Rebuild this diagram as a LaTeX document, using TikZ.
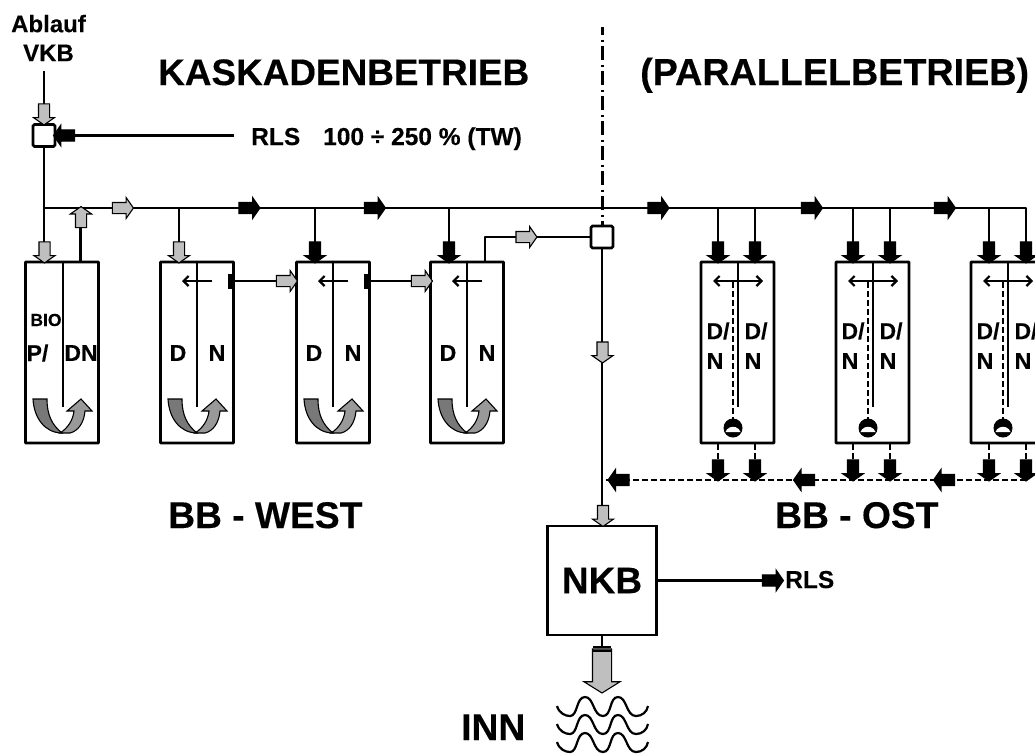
\documentclass[tikz,border=0pt]{standalone}
\usepackage{fontspec}
\setmainfont{Liberation Sans}[BoldFeatures={FakeBold=0.3}]
\usetikzlibrary{shapes.arrows,arrows.meta}
\definecolor{garrow}{gray}{0.75}
\definecolor{udark}{gray}{0.47}
\definecolor{ulight}{gray}{0.60}
\tikzset{
  x=1pt,y=-1pt,
  pipe/.style={line width=2.8pt,line join=round},
  dpipe/.style={line width=2.8pt,dash pattern=on 6pt off 3pt},
  tank/.style={draw,line width=2.8pt,rounded corners=0.6pt,inner sep=0pt,minimum width=73pt,minimum height=181pt},
  square/.style={draw,line width=2.8pt,rounded corners=1.5pt,fill=white,inner sep=0pt,minimum size=22pt},
  barrow/.style={single arrow,draw=black,line width=1.1pt,inner sep=0pt,minimum height=21pt,single arrow head extend=5pt,single arrow tip angle=110,execute at begin node={\rule{0pt}{10pt}}},
  ga/.style={barrow,fill=garrow},
  ka/.style={barrow,fill=black},
  lbl/.style={inner sep=0pt,font=\bfseries\fontsize{24.5}{28}\selectfont},
  tanklbl/.style={inner sep=0pt,font=\bfseries\fontsize{23}{26}\selectfont},
  big/.style={inner sep=0pt,anchor=base west,font=\bfseries\fontsize{37.2}{40}\selectfont},
  thin arrow/.style={line width=2.4pt,-{Straight Barb[length=5pt,width=10pt,line width=2.2pt]}},
  both arrow/.style={line width=2.4pt,{Straight Barb[length=5pt,width=10pt,line width=2.2pt]}-{Straight Barb[length=5pt,width=10pt,line width=2.2pt]}},
  bar/.style={fill=black,inner sep=0pt,minimum width=5pt,minimum height=15pt},
  waves/.style={line width=2.2pt},
}
\newcommand{\uturn}[1]{%
  \begin{scope}[xshift=#1]
    \draw[line width=1.1pt,fill=udark] (8,399) -- (22,399) .. controls (22,415) and (27,425) .. (37,433)
      .. controls (20,433) and (9,418) .. (8,399) -- cycle;
    \draw[line width=1.1pt,fill=ulight] (35,433) .. controls (43,428) and (48,420) .. (49,411)
      -- (42,411) -- (56,399) -- (67,411) -- (60,411) .. controls (59,423) and (53,431) .. (45,433) -- cycle;
  \end{scope}}
\newcommand{\wave}[1]{%
  \draw[waves] (557,#1+9) .. controls (559,#1+16) and (565,#1+19) .. (570,#1+19)
    .. controls (578,#1+19) and (576,#1) .. (585,#1)
    .. controls (594,#1) and (593,#1+19) .. (603,#1+19)
    .. controls (612,#1+19) and (609,#1) .. (618,#1)
    .. controls (627,#1) and (626,#1+19) .. (636,#1+19)
    .. controls (642,#1+19) and (647,#1+15) .. (648,#1+9);}
\begin{document}
\begin{tikzpicture}
\useasboundingbox (0,0) rectangle (1035,753);
% texts
\node[inner sep=0pt,align=center,font=\bfseries\fontsize{24}{29}\selectfont] (ablauf) at (48.5,38) {Ablauf\\VKB};
\node[big,font=\bfseries\fontsize{36.9}{40}\selectfont] (kask) at (158,85) {KASKADENBETRIEB};
\node[big,font=\bfseries\fontsize{37.7}{40}\selectfont] (para) at (640,85) {(PARALLELBETRIEB)};
\node[lbl,anchor=base west] (rlstxt) at (251,145) {RLS};
\node[lbl,anchor=base west] (pct) at (323,145) {100 ÷ 250 \% (TW)};
\node[big] (west) at (168,528) {BB - WEST};
\node[big] (ost) at (775,528) {BB - OST};
\node[big] (inn) at (461,740) {INN};
% tanks
\node[tank] (t1) at (62,352.5) {};
\node[tank] (t2) at (197,352.5) {};
\node[tank] (t3) at (333,352.5) {};
\node[tank] (t4) at (467,352.5) {};
\node[tank] (p1) at (737.5,352.5) {};
\node[tank] (p2) at (872.5,352.5) {};
\node[tank] (p3) at (1007.5,352.5) {};
\node[square] (mix1) at (44,135.5) {};
\node[square] (mix2) at (602,237) {};
\node[draw,line width=2.8pt,inner sep=0pt,minimum width=109pt,minimum height=109pt,font=\bfseries\fontsize{37}{40}\selectfont] (nkb) at (602,580.5) {NKB};
% junction coordinates
\coordinate (vkbtop) at (44,71);
\coordinate (mainj) at (44,208);
\coordinate (mainend) at (1026,208);
\coordinate (septop) at (602.5,27);
\coordinate (sepbot) at (602.5,226);
\coordinate (rlsstart) at (234,135.5);
\coordinate (rlsend) at (782,580.5);
\coordinate (retend) at (1026,480);
\coordinate (ret) at (602,480);
% main pipes
\draw[pipe] (vkbtop) -- (mix1);
\draw[pipe] (mix1) -- (mainj) -- (t1.north -| mainj);
\draw[pipe] (mainj) -- (mainend) -- (mainend |- p3.north);
\draw[pipe] (80.5,208) -- (80.5,262);
\draw[pipe] (179,208) -- (179,262);
\draw[pipe] (315,208) -- (315,262);
\draw[pipe] (449,208) -- (449,262);
\draw[pipe] (rlsstart) -- (mix1);
\draw[pipe] (485,262) -- (485,237) -- (mix2);
\draw[pipe] (mix2) -- (nkb);
\draw[pipe] (nkb) -- (rlsend);
\draw[pipe] (nkb.south) -- (602,648);
\draw[pipe] (234,281) -- (t3.west |- 234,281);
\draw[pipe] (370,281) -- (t4.west |- 370,281);
\draw[line width=2.6pt,dash pattern=on 14pt off 4.5pt on 2.5pt off 4pt,dash phase=6pt] (septop) -- (sepbot);
% dashed return
\draw[dpipe] (retend) -- (ret);
\foreach \a/\b in {718/755,853/890,989/1026}{
  \draw[pipe] (\a,208) -- (\a,262);
  \draw[pipe] (\b,208) -- (\b,262);
  \draw[dpipe] (\a,444) -- (\a,480);
  \draw[dpipe] (\b,444) -- (\b,480);
}
% inside tanks
\draw[pipe] (63,262) -- (63,407);
\draw[pipe] (t2.north) -- (197,407);
\draw[pipe] (t3.north) -- (333,407);
\draw[pipe] (t4.north) -- (467,407);
\foreach \x/\t in {0/p1,135/p2,270/p3}{
  \begin{scope}[xshift=\x]
    \draw[pipe] (738,262) -- (738,407);
    \draw[dpipe] (733,282) -- (733,420);
    \draw[both arrow] (713,281) -- (763,281);
    \node[inner sep=0pt,circle,fill=black,draw=black,line width=1pt,minimum size=18pt] (pump\t) at (733,428) {};
    \draw[fill=white,draw=none] (725.5,432) arc (200:340:8) -- cycle;
    \node[tanklbl] (a\t) at (718,331) {D/};
    \node[tanklbl] (b\t) at (756,331) {D/};
    \node[tanklbl] (c\t) at (715,361) {N};
    \node[tanklbl] (d\t) at (753,361) {N};
  \end{scope}
}
% tank labels
\node[inner sep=0pt,font=\bfseries\fontsize{17.5}{20}\selectfont] (bio) at (46,320) {BIO};
\foreach \n/\x/\y/\s in {p/37.5/353/{P/},dn/81/353/DN,d2/178/353/D,n2/217/353/N,d3/314/353/D,n3/353/353/N,d4/448/353/D,n4/487/353/N}{
  \node[tanklbl] (lab\n) at (\x,\y) {\s};
}
% small arrows in tanks
\draw[thin arrow] (212,281) -- (182,281);
\draw[thin arrow] (348,281) -- (318,281);
\draw[thin arrow] (482,281) -- (452,281);
\node[bar] (bar1) at (230,281) {};
\node[bar] (bar2) at (366,281) {};
% u-turn arrows
\uturn{25}
\uturn{160}
\uturn{296}
\uturn{430}
% gray block arrows
\node[ga,rotate=-90] (g1) at (44,112.5) {};
\node[ga,rotate=-90] (g2) at (44.5,250.5) {};
\node[ga,rotate=90] (g3) at (81,219) {};
\node[ga] (g4) at (121,208) {};
\node[ga,rotate=-90] (g5) at (179,250.5) {};
\node[ga] (g6) at (285,281) {};
\node[ga] (g7) at (420,281) {};
\node[ga] (g8) at (524.5,237) {};
\node[ga,rotate=-90] (g9) at (602.5,350.5) {};
\node[ga,rotate=-90] (g10) at (603,514) {};
% black block arrows
\node[ka,rotate=180] (k0) at (66,135.5) {};
\node[ka] (k1) at (247.5,208) {};
\node[ka] (k2) at (373,208) {};
\node[ka] (k3) at (656.5,208) {};
\node[ka] (k4) at (810,208) {};
\node[ka] (k5) at (943,208) {};
\node[ka,rotate=-90] (k6) at (315,250.5) {};
\node[ka,rotate=-90] (k7) at (449,250.5) {};
\foreach \x in {718,755,853,890,989,1026}{
  \node[ka,rotate=-90] (top\x) at (\x,250.5) {};
  \node[ka,rotate=-90] (bot\x) at (\x,468.5) {};
}
\node[ka,rotate=180] (r1) at (620.5,480) {};
\node[ka,rotate=180] (r2) at (806,480) {};
\node[ka,rotate=180] (r3) at (946,480) {};
\node[ka] (k8) at (771,580.5) {};
\node[lbl,anchor=base west] (rls2) at (785,588) {RLS};
% big outlet arrow
\node[single arrow,draw=black,fill=garrow,line width=1.1pt,rotate=-90,inner sep=0pt,minimum height=44pt,single arrow head extend=8.5pt,single arrow tip angle=116,execute at begin node={\rule{0pt}{18pt}}] (out) at (602,668) {};
\draw[line width=1.6pt] (593,647) -- (611,647);
\draw[line width=1.6pt] (593,651) -- (611,651);
% waves
\wave{697}
\wave{715}
\wave{733}
\end{tikzpicture}
\end{document}
